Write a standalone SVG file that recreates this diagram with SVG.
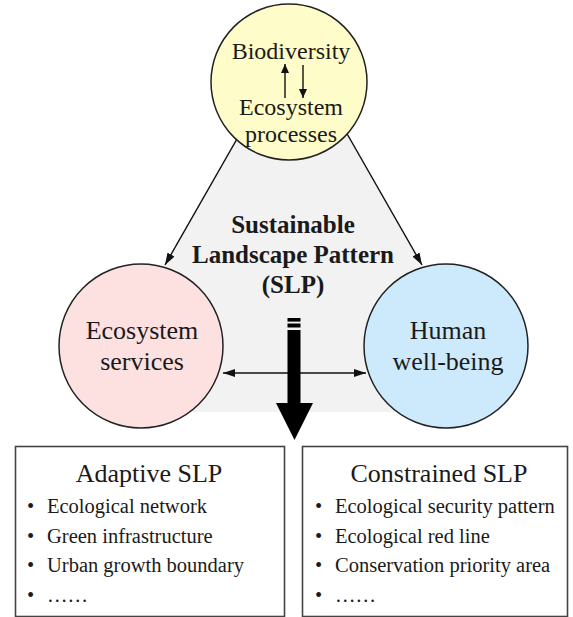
<svg xmlns="http://www.w3.org/2000/svg" width="573" height="617" viewBox="0 0 573 617">
  <defs>
    <marker id="head" viewBox="0 0 12 8" refX="12" refY="4" markerWidth="12" markerHeight="8" markerUnits="userSpaceOnUse" orient="auto-start-reverse">
      <path d="M0,0 L12,4 L0,8 Z" fill="#111"/>
    </marker>
    <marker id="headSmall" viewBox="0 0 9 8" refX="9" refY="4" markerWidth="9" markerHeight="8" markerUnits="userSpaceOnUse" orient="auto">
      <path d="M0,0 L9,4 L0,8 Z" fill="#111"/>
    </marker>
    <style>
      .t { font-family: "Liberation Serif", "Times New Roman", serif; fill: #1a1a1a; }
      .node { font-size: 26px; text-anchor: middle; }
      .top { font-size: 24px; text-anchor: middle; }
      .bold { font-size: 25px; font-weight: bold; text-anchor: middle; }
      .item { font-size: 20.5px; }
      .edge { stroke: #111; stroke-width: 1.4; fill: none; }
      .circle { stroke: #222; stroke-width: 1.5; }
      .box { fill: #fff; stroke: #444; stroke-width: 1.6; }
    </style>
  </defs>

  <!-- shared SLP area; lower corners tucked behind the two side circles -->
  <polygon id="slp-area" points="293.5,40 165,265 94,390 120,412 470,412 493,390 422,265" fill="#f2f2f2"/>
  <text class="t bold" x="293" y="233">Sustainable</text>
  <text class="t bold" x="293" y="263">Landscape Pattern</text>
  <text class="t bold" x="293" y="293">(SLP)</text>

  <g id="ecosystem-services">
    <circle class="circle" cx="141" cy="346" r="82" fill="#fde0e0"/>
    <text class="t node" x="142" y="339">Ecosystem</text>
    <text class="t node" x="142" y="370">services</text>
  </g>

  <g id="human-well-being">
    <circle class="circle" cx="446" cy="346" r="82" fill="#cdeafc"/>
    <text class="t node" x="448" y="339">Human</text>
    <text class="t node" x="448" y="370">well-being</text>
  </g>

  <g id="connectors">
    <line class="edge" x1="293.5" y1="40" x2="165" y2="265" marker-end="url(#head)"/>
    <line class="edge" x1="293.5" y1="40" x2="422" y2="265" marker-end="url(#head)"/>
    <line class="edge" x1="223" y1="373" x2="366" y2="373" marker-start="url(#head)" marker-end="url(#head)"/>
    <!-- thick arrow towards the two SLP types -->
    <g id="slp-arrow" fill="#000">
      <rect x="287.5" y="318" width="13" height="3.6"/>
      <rect x="287.5" y="323.5" width="13" height="4"/>
      <rect x="287.5" y="330" width="13" height="74"/>
      <polygon points="276,403 313,403 294.5,440"/>
    </g>
  </g>

  <g id="biodiversity">
    <circle class="circle" cx="289" cy="82" r="78" fill="#fefcc8"/>
    <text class="t top" x="291" y="59">Biodiversity</text>
    <line class="edge" x1="285" y1="98" x2="285" y2="64" stroke-width="1" marker-end="url(#headSmall)"/>
    <line class="edge" x1="303" y1="65" x2="303" y2="98" stroke-width="1" marker-end="url(#headSmall)"/>
    <text class="t top" x="291" y="115">Ecosystem</text>
    <text class="t top" x="291" y="142">processes</text>
  </g>

  <g id="adaptive-slp">
    <rect class="box" x="15.5" y="446.5" width="269" height="170"/>
    <text class="t node" x="149" y="482">Adaptive SLP</text>
    <g class="t item">
      <text x="27" y="513">•</text><text x="47" y="513">Ecological network</text>
      <text x="27" y="543">•</text><text x="47" y="543">Green infrastructure</text>
      <text x="27" y="572">•</text><text x="47" y="572">Urban growth boundary</text>
      <text x="27" y="602">•</text><text x="47" y="602">……</text>
    </g>
  </g>

  <g id="constrained-slp">
    <rect class="box" x="302.5" y="446.5" width="265" height="170"/>
    <text class="t node" x="439" y="482">Constrained SLP</text>
    <g class="t item">
      <text x="315" y="513">•</text><text x="335" y="513">Ecological security pattern</text>
      <text x="315" y="543">•</text><text x="335" y="543">Ecological red line</text>
      <text x="315" y="572">•</text><text x="335" y="572">Conservation priority area</text>
      <text x="315" y="602">•</text><text x="335" y="602">……</text>
    </g>
  </g>
</svg>
